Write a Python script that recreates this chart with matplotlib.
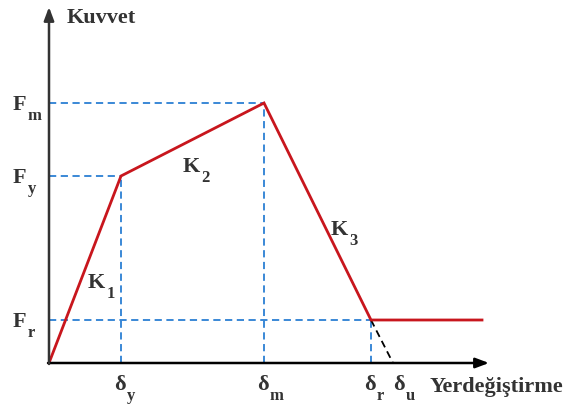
import matplotlib.pyplot as plt

plt.rcParams['font.family'] = 'Liberation Serif'

# Idealised force-displacement curve (schematic units)
disp = [0, 72, 215, 322, 433]      # 0, dy, dm, dr, end
force = [0, 187, 260, 43, 43]      # 0, Fy, Fm, Fr, Fr
delta_u = 344
x_ticks = [72, 215, 322, 344]
x_subs = ['y', 'm', 'r', 'u']
y_ticks = [260, 187, 43]
y_subs = ['m', 'y', 'r']
k_subs = ['1', '2', '3']
k_pos = [(39, 75), (134, 191), (282, 128)]

fig = plt.figure(figsize=(5.69, 4.07), dpi=100)
ax = fig.add_axes([0, 0, 1, 1])
ax.set_xlim(-49, 520)
ax.set_ylim(-44, 363)
ax.axis('off')
renderer = fig.canvas.get_renderer()

blue = '#2b7fd3'
tc = '#333333'
dash = (0, (4, 2.5))

# guide lines
for (x, y) in [(disp[1], force[1]), (disp[2], force[2]), (disp[3], force[3])]:
    ax.plot([0, x], [y, y], color=blue, lw=1.3, ls=dash)
    ax.plot([x, x], [0, y], color=blue, lw=1.3, ls=dash)

# descending branch extension
ax.plot([disp[3], delta_u], [force[3], 0], color='black', lw=1.3, ls=dash)

# curve
ax.plot(disp, force, color='#c8161d', lw=2, solid_joinstyle='miter')

# axes arrows
ax.annotate('', xy=(440, 0), xytext=(-1, 0),
            arrowprops=dict(arrowstyle='-|>,head_length=0.8,head_width=0.3',
                            color='black', lw=1.8, shrinkA=0, shrinkB=0))
ax.annotate('', xy=(0, 356), xytext=(0, -1),
            arrowprops=dict(arrowstyle='-|>,head_length=0.8,head_width=0.3',
                            color='#333333', lw=1.8, shrinkA=0, shrinkB=0))


def sub_label(x, y, main, sub):
    t = ax.text(x, y, main, fontsize=16, fontweight='bold', color=tc,
                ha='left', va='baseline')
    bb = t.get_window_extent(renderer)
    # data units equal pixels here
    ax.text(bb.x1 - 49 + 1, y - 10, sub, fontsize=12, fontweight='bold',
            color=tc, ha='left', va='baseline')


ax.text(18, 340, 'Kuvvet', fontsize=16, fontweight='bold', color=tc,
        ha='left', va='baseline')
ax.text(381, -29, 'Yerdeğiştirme', fontsize=16, fontweight='bold', color=tc,
        ha='left', va='baseline')

for x, s in zip(x_ticks, x_subs):
    off = 0 if s == 'u' else -7
    sub_label(x + off, -27, 'δ', s)
for y, s in zip(y_ticks, y_subs):
    sub_label(-36, y - 7, 'F', s)
for (x, y), s in zip(k_pos, k_subs):
    sub_label(x, y, 'K', s)

fig.savefig('out.png', dpi=100)
